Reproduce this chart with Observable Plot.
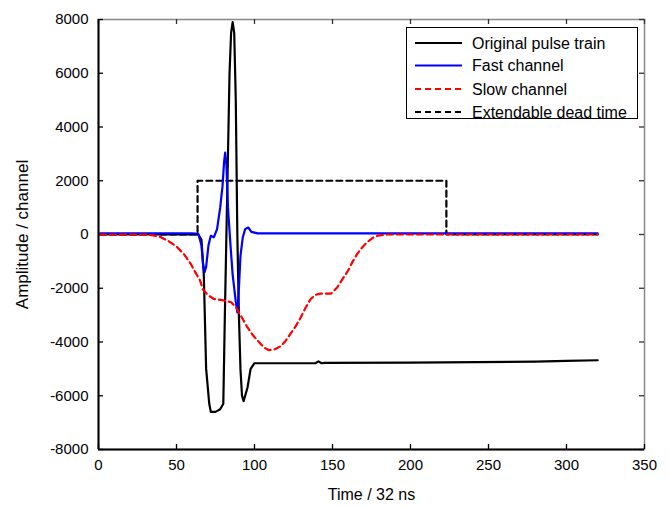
<!DOCTYPE html>
<html>
<head>
<meta charset="utf-8">
<script src="https://cdn.jsdelivr.net/npm/d3@7"></script>
<script src="https://cdn.jsdelivr.net/npm/@observablehq/plot@0.6"></script>
<style>
  html, body { margin: 0; padding: 0; background: #fff; }
  #wrap { position: relative; width: 669px; height: 507px; font-family: Arial, "Liberation Sans", sans-serif; }
  #legend { position: absolute; left: 406px; top: 27px; }
</style>
</head>
<body>
<div id="wrap"></div>
<script>
// ---- Data ----
const seriesNames = ["Original pulse train", "Fast channel", "Slow channel", "Extendable dead time"];

const originalT = [1, 60, 64, 66, 67.5, 69, 71, 72, 75, 78, 80, 81, 82, 83, 84, 85, 86, 87, 88, 89, 90, 91, 92, 93, 94, 95.5, 97.5, 100, 139, 141, 143, 145, 200, 280, 300, 320];
const originalV = [0, 0, 0, -200, -1500, -5000, -6300, -6600, -6600, -6500, -6300, -3000, 0, 3000, 6000, 7500, 7900, 7500, 5000, 0, -3000, -5000, -6000, -6200, -6000, -5700, -5000, -4790, -4790, -4720, -4790, -4780, -4770, -4730, -4700, -4680];

const fastT = [1, 60, 64, 66, 67, 68, 69, 70.5, 72, 74, 76, 78, 79.5, 80.5, 81.2, 82, 83, 84.5, 86, 88, 89, 90, 91, 92.5, 94, 96, 98, 102, 320];
const fastV = [40, 40, 20, -400, -1100, -1400, -1200, -400, -50, -100, 200, 1000, 1800, 2700, 3050, 2600, 1000, -300, -1500, -2500, -2900, -2000, -800, -100, 200, 260, 100, 40, 40];

const slowT = [1, 30, 35, 40, 45, 50, 55, 59, 62, 65, 67, 70, 74, 80, 85, 88, 90, 93, 95.5, 99, 102, 106, 109, 113, 117, 120, 123, 126, 129.5, 133, 136, 139, 142, 146, 149, 153, 156, 160, 163, 166, 169, 172, 176, 179, 185, 320];
const slowV = [0, 0, -30, -100, -250, -450, -750, -1080, -1400, -1700, -2050, -2250, -2400, -2450, -2520, -2700, -2900, -3200, -3460, -3750, -3950, -4200, -4300, -4270, -4150, -3950, -3700, -3450, -3100, -2700, -2400, -2250, -2200, -2200, -2200, -1970, -1700, -1340, -1000, -710, -480, -300, -120, -40, 0, 0];

const deadT = [1, 63.5, 63.5, 223, 223, 320];
const deadV = [0, 0, 2000, 2000, 0, 0];

const xTicks = [0, 50, 100, 150, 200, 250, 300, 350];
const yTicks = [-8000, -6000, -4000, -2000, 0, 2000, 4000, 6000, 8000];

// ---- Build tables ----
const zip = (T, V) => T.map((t, i) => ({t, v: V[i]}));
const original = zip(originalT, originalV);
const fast = zip(fastT, fastV);
const slow = zip(slowT, slowV);
const dead = zip(deadT, deadV);

const W = 669, H = 507;
const mL = 98, mR = 25, mT = 19, mB = 58;
const innerW = W - mL - mR, innerH = H - mT - mB;
const tick = 5;

const chart = Plot.plot({
  width: W,
  height: H,
  marginLeft: mL,
  marginRight: mR,
  marginTop: mT,
  marginBottom: mB,
  style: {fontFamily: 'Arial, "Liberation Sans", sans-serif', fontSize: "15px", color: "#000", background: "#fff"},
  x: {domain: [0, 350]},
  y: {domain: [-8000, 8000]},
  marks: [
    Plot.frame({stroke: "#888", strokeWidth: 1.5}),
    Plot.axisX(xTicks, {tickSize: 0, tickPadding: 10, fontSize: 15, label: "Time / 32 ns", labelAnchor: "center", labelArrow: false, labelOffset: 50, tickFormat: d => String(d)}),
    Plot.axisY(yTicks, {tickSize: 0, tickPadding: 10, fontSize: 15, label: "Amplitude / channel", labelAnchor: "center", labelArrow: false, labelOffset: 83, tickFormat: d => String(d)}),
    // inward ticks on all four sides
    Plot.ruleX(xTicks, {x: d => d, stroke: "#000", strokeWidth: 1.3, insetTop: innerH - tick}),
    Plot.ruleX(xTicks, {x: d => d, stroke: "#333", strokeWidth: 1.3, insetBottom: innerH - tick}),
    Plot.ruleY(yTicks, {y: d => d, stroke: "#000", strokeWidth: 1.3, insetRight: innerW - tick}),
    Plot.ruleY(yTicks, {y: d => d, stroke: "#333", strokeWidth: 1.3, insetLeft: innerW - tick}),
    Plot.line(dead, {x: "t", y: "v", stroke: "#000", strokeWidth: 2.2, strokeDasharray: "6,4"}),
    Plot.line(original, {x: "t", y: "v", stroke: "#000", strokeWidth: 2.2}),
    Plot.line(fast, {x: "t", y: "v", stroke: "#0000ff", strokeWidth: 2.2}),
    Plot.line(slow, {x: "t", y: "v", stroke: "#ff0000", strokeWidth: 2.2, strokeDasharray: "6,4"}),
    // main axes lines (left and bottom) in black
    Plot.ruleX([0], {stroke: "#000", strokeWidth: 2}),
    Plot.ruleY([-8000], {stroke: "#000", strokeWidth: 2})
  ]
});

// slightly larger axis titles, as in the reference
d3.select(chart).selectAll('g[aria-label="x-axis label"] text').attr("font-size", 16);
d3.select(chart).selectAll('g[aria-label="y-axis label"] text').attr("font-size", 17);

const wrap = document.getElementById("wrap");
wrap.appendChild(chart);

// ---- Legend ----
const legendStyles = [
  {stroke: "#000", dash: null},
  {stroke: "#0000ff", dash: null},
  {stroke: "#ff0000", dash: "6,4"},
  {stroke: "#000", dash: "6,4"}
];
const ns = "http://www.w3.org/2000/svg";
const lg = document.createElementNS(ns, "svg");
lg.setAttribute("id", "legend");
lg.setAttribute("width", 233);
lg.setAttribute("height", 93);
const box = document.createElementNS(ns, "rect");
box.setAttribute("x", 0.5); box.setAttribute("y", 0.5);
box.setAttribute("width", 231); box.setAttribute("height", 91);
box.setAttribute("fill", "#fff"); box.setAttribute("stroke", "#000"); box.setAttribute("stroke-width", 1);
lg.appendChild(box);
const rowY = [16, 38.5, 62, 85];
seriesNames.forEach((name, i) => {
  const ln = document.createElementNS(ns, "line");
  ln.setAttribute("x1", 9); ln.setAttribute("x2", 56);
  ln.setAttribute("y1", rowY[i]); ln.setAttribute("y2", rowY[i]);
  ln.setAttribute("stroke", legendStyles[i].stroke);
  ln.setAttribute("stroke-width", 2.2);
  if (legendStyles[i].dash) ln.setAttribute("stroke-dasharray", legendStyles[i].dash);
  lg.appendChild(ln);
  const tx = document.createElementNS(ns, "text");
  tx.setAttribute("x", 66); tx.setAttribute("y", rowY[i]);
  tx.setAttribute("dy", "0.35em");
  tx.setAttribute("font-size", 16);
  tx.setAttribute("font-family", 'Arial, "Liberation Sans", sans-serif');
  tx.textContent = name;
  lg.appendChild(tx);
});
wrap.appendChild(lg);
</script>
</body>
</html>
